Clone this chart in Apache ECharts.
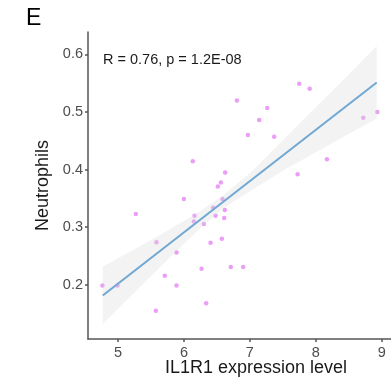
<!DOCTYPE html>
<html>
<head>
<meta charset="utf-8">
<script src="https://cdn.jsdelivr.net/npm/echarts@6/dist/echarts.min.js"></script>
<style>html,body{margin:0;padding:0;background:#fff}#c{width:391px;height:383px}</style>
</head>
<body>
<div id="c"></div>
<script>
// Scatter points: IL1R1 expression level (x) vs Neutrophils (y)
const pointX = [6.803, 6.134, 6.625, 7.749, 7.907, 7.263, 7.141, 6.970, 7.369, 8.721,
                8.933, 8.169, 7.724, 6.560, 6.514, 5.998, 6.585, 5.269, 6.160, 6.443,
                6.620, 6.479, 6.610, 6.150, 6.301, 5.583, 6.403, 6.575, 5.887, 6.267,
                6.711, 6.898, 5.709, 5.887, 4.763, 4.991, 6.336, 5.573];
const pointY = [0.520, 0.4145, 0.395, 0.549, 0.540, 0.507, 0.486, 0.460, 0.457, 0.490,
                0.500, 0.418, 0.392, 0.3775, 0.3706, 0.349, 0.349, 0.323, 0.320, 0.334,
                0.330, 0.320, 0.316, 0.310, 0.3055, 0.274, 0.273, 0.280, 0.256, 0.228,
                0.231, 0.231, 0.216, 0.199, 0.199, 0.199, 0.168, 0.155];
// Regression line endpoints
const lineX = [4.768, 8.924];
const lineY = [0.1815, 0.551];
// Confidence band
const bandX = [4.768, 5.25, 5.75, 6.25, 6.6, 7.0, 7.5, 8.0, 8.5, 8.924];
const bandLower = [0.132, 0.187, 0.2435, 0.2985, 0.333, 0.3624, 0.398, 0.430, 0.4615, 0.4885];
const bandUpper = [0.232, 0.262, 0.294, 0.328, 0.356, 0.3936, 0.451, 0.508, 0.565, 0.6145];
// Ticks
const xTicks = [5, 6, 7, 8, 9];
const yTicks = [0.2, 0.3, 0.4, 0.5, 0.6];
const statText = 'R = 0.76, p = 1.2E-08';
const xTitle = 'IL1R1 expression level';
const yTitle = 'Neutrophils';

const chart = echarts.init(document.getElementById('c'), null, {renderer: 'canvas'});
const font = 'Liberation Sans, Arial, sans-serif';
const axisColor = '#555555';
chart.setOption({
  animation: false,
  backgroundColor: '#ffffff',
  grid: {left: 88, top: 32, right: 0, bottom: 44, containLabel: false},
  graphic: [
    {type: 'text', left: 26, top: 7, style: {text: 'E', font: '23px ' + font, fill: '#000'}},
    {type: 'text', left: 103, top: 52, style: {text: statText, font: '14.5px ' + font, fill: '#1a1a1a'}},
    {type: 'text', x: 256, y: 368, style: {text: xTitle, font: '18px ' + font, fill: '#1a1a1a',
      align: 'center', verticalAlign: 'middle'}}
  ],
  xAxis: {
    type: 'value', min: 4.544, max: 9.141,
    splitLine: {show: false},
    axisLine: {show: true, lineStyle: {color: axisColor, width: 1.5}},
    axisTick: {show: true, length: 3, customValues: xTicks, lineStyle: {color: axisColor, width: 1.5}},
    axisLabel: {customValues: xTicks, color: '#4d4d4d', fontSize: 14.5, fontFamily: font, margin: 6}
  },
  yAxis: {
    type: 'value', min: 0.1062, max: 0.6386,
    splitLine: {show: false},
    axisLine: {show: true, lineStyle: {color: axisColor, width: 1.5}},
    axisTick: {show: true, length: 3, customValues: yTicks, lineStyle: {color: axisColor, width: 1.5}},
    axisLabel: {customValues: yTicks, color: '#4d4d4d', fontSize: 14.5, fontFamily: font, margin: 5,
      formatter: v => v.toFixed(1)},
    name: yTitle, nameLocation: 'middle', nameGap: 34, nameRotate: 90,
    nameTextStyle: {fontSize: 18, color: '#1a1a1a', fontFamily: font}
  },
  series: [
    {
      type: 'scatter', z: 1,
      data: pointX.map((x, i) => [x, pointY[i]]),
      symbolSize: 4.5,
      itemStyle: {color: '#e586f2'}
    },
    {
      type: 'custom', z: 2, silent: true,
      data: [[bandX[0], bandLower[0]]],
      renderItem: function (params, api) {
        const pts = [];
        for (let i = 0; i < bandX.length; i++) pts.push(api.coord([bandX[i], bandUpper[i]]));
        for (let i = bandX.length - 1; i >= 0; i--) pts.push(api.coord([bandX[i], bandLower[i]]));
        return {type: 'polygon', shape: {points: pts}, style: {fill: 'rgba(215,215,215,0.3)'}};
      }
    },
    {
      type: 'line', z: 3, showSymbol: false, silent: true,
      data: lineX.map((x, i) => [x, lineY[i]]),
      lineStyle: {color: '#6fa8d3', width: 2}
    }
  ]
});
</script>
</body>
</html>
